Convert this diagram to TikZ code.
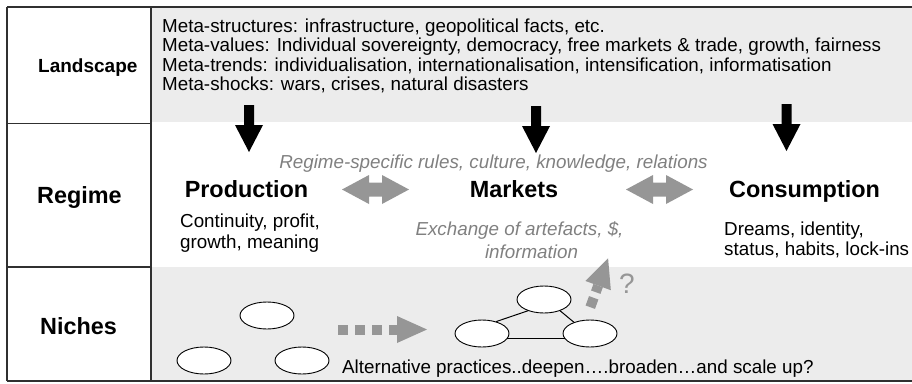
\documentclass[tikz,border=0pt]{standalone}
\usepackage{fontspec}
\setmainfont{Liberation Sans}
\usetikzlibrary{shapes.geometric}
\definecolor{bgfill}{HTML}{ECECEC}
\definecolor{arrgray}{HTML}{969696}
\definecolor{txtgray}{HTML}{808080}
\definecolor{framecol}{HTML}{303030}
\tikzset{
  blackdown/.pic={\fill[black] (-5,0) -- (5,0) -- (5,20) -- (14,20) -- (0,47) -- (-14,20) -- (-5,20) -- cycle;},
  biarrow/.pic={\fill[arrgray] (-33.5,0) -- (-6.5,-14.5) -- (-6.5,-7) -- (6.5,-7) -- (6.5,-14.5) -- (33.5,0) -- (6.5,14.5) -- (6.5,7) -- (-6.5,7) -- (-6.5,14.5) -- cycle;}
}
\begin{document}
\begin{tikzpicture}[x=1pt,y=-1pt,
  frame/.style={draw=framecol, line width=1.3pt},
  rowlabel/.style={anchor=base west, inner sep=0pt, font=\fontsize{23.4}{26}\selectfont\bfseries},
  body/.style={anchor=base west, inner sep=0pt, font=\fontsize{18.8}{22}\selectfont},
  head/.style={anchor=base, inner sep=0pt, font=\fontsize{23.4}{26}\selectfont\bfseries},
  note/.style={anchor=base, inner sep=0pt, text=txtgray, font=\fontsize{18.8}{22}\selectfont\itshape},
  blob/.style={ellipse, draw=black, fill=white, line width=0.9pt, minimum width=54pt, minimum height=27pt, inner sep=0pt},
  link/.style={draw=black, line width=1pt},
  dots/.style={draw=arrgray, line width=10pt, dash pattern=on 10pt off 7pt}
]
\useasboundingbox (0,0) rectangle (912,383);
% backgrounds
\fill[bgfill] (151,7) rectangle (912,122);
\fill[bgfill] (151,267) rectangle (912,381);
% frame
\draw[frame] (7,7) -- (912,7);
\draw[frame] (7,381) -- (912,381);
\draw[frame] (7,7) -- (7,381);
\draw[frame] (151,7) -- (151,381);
\draw[frame] (7,123.5) -- (151,123.5);
\draw[frame] (7,267) -- (151,267);
% row labels
\node[rowlabel, font=\fontsize{19}{22}\selectfont\bfseries] (land) at (38,72.7) {Landscape};
\node[rowlabel] (reg) at (37,203) {Regime};
\node[rowlabel] (nic) at (40,334) {Niches};
% landscape text
\node[body] (l1) at (162,32) {Meta-structures: infrastructure, geopolitical facts, etc.};
\node[body] (l2) at (162,51.5) {Meta-values: Individual sovereignty, democracy, free markets \& trade, growth, fairness};
\node[body] (l3) at (162,71) {Meta-trends: individualisation, internationalisation, intensification, informatisation};
\node[body] (l4) at (162,90.5) {Meta-shocks: wars, crises, natural disasters};
% black arrows
\pic at (249,105) {blackdown};
\pic at (536,106) {blackdown};
\pic at (786.5,104) {blackdown};
% regime
\node[note] (rules) at (493.5,168.5) {Regime-specific rules, culture, knowledge, relations};
\node[head] (prod) at (246.5,197) {Production};
\node[head] (mark) at (514,197) {Markets};
\node[head] (cons) at (804.5,197) {Consumption};
\pic at (375.5,189.5) {biarrow};
\pic at (659.5,189.5) {biarrow};
\node[body] (p1) at (180,227.5) {Continuity, profit,};
\node[body] (p2) at (180,248.5) {growth, meaning};
\node[note] (x1) at (519.5,235) {Exchange of artefacts, \$,};
\node[note] (x2) at (531.5,258) {information};
\node[body] (c1) at (724,235) {Dreams, identity,};
\node[body] (c2) at (724,255.5) {status, habits, lock-ins};
% niches
\node[blob] (e1) at (267,315.5) {};
\node[blob] (e2) at (204,360.5) {};
\node[blob] (e3) at (302,360.5) {};
\draw[dots] (338,329.5) -- (397,329.5);
\fill[arrgray] (397,316) -- (427,329.5) -- (397,343) -- cycle;
\node[blob] (t1) at (544,299.5) {};
\node[blob] (t2) at (482,333.5) {};
\node[blob] (t3) at (590,333.5) {};
\draw[link] (t2.40) -- (t1.-145);
\draw[link] (t1.-35) -- (t3.145);
\draw[link] (t2.-12) -- (t3.192);
\begin{scope}[shift={(592,302.5)}, rotate=70]
  \draw[draw=arrgray, line width=10pt, dash pattern=on 10pt off 6pt] (-5,0) -- (18,0);
  \fill[arrgray] (18,-13.5) -- (47,0) -- (18,13.5) -- cycle;
\end{scope}
\node[anchor=base, inner sep=0pt, text=arrgray, font=\fontsize{28}{30}\selectfont] (q) at (627,293) {?};
\node[body] (alt) at (342,373) {Alternative practices..deepen….broaden…and scale up?};
\end{tikzpicture}
\end{document}
